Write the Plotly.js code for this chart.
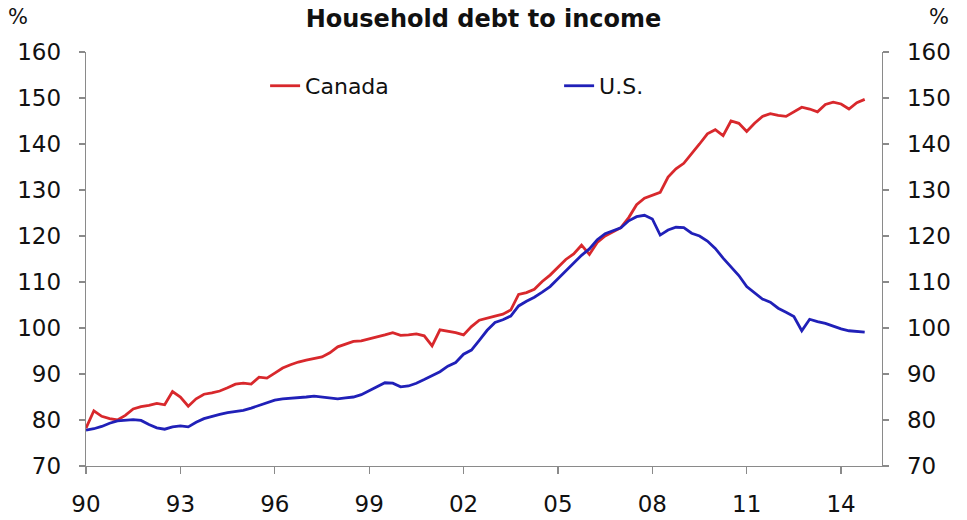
<!DOCTYPE html>
<html>
<head>
<meta charset="utf-8">
<script src="https://cdn.plot.ly/plotly-3.0.1.min.js"></script>
<style>html,body{margin:0;padding:0;background:#fff;}#chart{width:967px;height:520px;}</style>
</head>
<body>
<div id="chart"></div>
<script>
// Quarterly observations, 1990Q1 .. 2014Q4
var startYear = 1990;
var canada = [
  78.2, 82.0, 80.8, 80.3,  80.0, 81.0, 82.4, 82.9,  83.2, 83.6, 83.3, 86.2,
  85.0, 83.0, 84.6, 85.6,  85.9, 86.3, 87.0, 87.8,  88.0, 87.8, 89.3, 89.1,
  90.2, 91.3, 92.0, 92.6,  93.0, 93.3, 93.7, 94.6,  95.9, 96.5, 97.1, 97.2,
  97.6, 98.1, 98.5, 99.0,  98.4, 98.5, 98.7, 98.3,  96.1, 99.6, 99.3, 99.0,
  98.5, 100.3, 101.7, 102.2,  102.6, 103.0, 103.9, 107.3,  107.7, 108.4, 110.1, 111.5,
  113.2, 114.9, 116.1, 118.0,  116.0, 118.6, 120.0, 120.9,  121.8, 124.0, 126.8, 128.2,
  128.8, 129.5, 132.8, 134.6,  135.8, 137.8, 140.0, 142.2,  143.1, 141.8, 145.0, 144.5,
  142.7, 144.5, 146.0, 146.6,  146.2, 146.0, 147.0, 148.0,  147.6, 147.0, 148.6, 149.1,
  148.7, 147.6, 149.0, 149.7
];
var us = [
  77.8, 78.1, 78.6, 79.3,  79.8, 80.0, 80.1, 79.9,  79.0, 78.3, 78.0, 78.5,
  78.7, 78.5, 79.5, 80.3,  80.8, 81.2, 81.6, 81.9,  82.1, 82.6, 83.2, 83.8,
  84.3, 84.6, 84.7, 84.8,  85.0, 85.2, 85.0, 84.8,  84.6, 84.8, 85.0, 85.5,
  86.4, 87.2, 88.1, 88.0,  87.2, 87.4, 88.0, 88.8,  89.7, 90.5, 91.7, 92.5,
  94.3, 95.2, 97.3, 99.5,  101.2, 101.8, 102.6, 104.8,  105.8, 106.7, 107.8, 109.0,
  110.7, 112.4, 114.2, 115.8,  117.2, 119.2, 120.5, 121.2,  121.8, 123.3, 124.2, 124.5,
  123.7, 120.2, 121.3, 121.9,  121.8, 120.6, 120.0, 118.9,  117.3, 115.2, 113.4, 111.4,
  109.0, 107.6, 106.3, 105.6,  104.3, 103.4, 102.5, 99.4,  101.9, 101.4, 101.0, 100.4,
  99.8, 99.4, 99.2, 99.1
];
var tickYears = [1990, 1993, 1996, 1999, 2002, 2005, 2008, 2011, 2014];
var tickLabels = ['90', '93', '96', '99', '02', '05', '08', '11', '14'];
var seriesNames = ['Canada', 'U.S.'];
var titleText = 'Household debt to income';
var unitLabel = '%';

var xq = canada.map(function (_, i) { return startYear + i / 4; });

var FONT = '"DejaVu Sans", Arial, sans-serif';
var AXC = '#8a8a8a';

var traces = [
  {x: xq, y: canada, name: seriesNames[0], type: 'scatter', mode: 'lines',
   line: {color: '#d8282c', width: 2.8}, yaxis: 'y'},
  {x: xq, y: us, name: seriesNames[1], type: 'scatter', mode: 'lines',
   line: {color: '#2020b8', width: 2.8}, yaxis: 'y2'}
];

var yCommon = {
  range: [70, 160], dtick: 10, tick0: 70, showgrid: false, zeroline: false,
  showline: true, linecolor: AXC, linewidth: 1.3,
  ticks: 'outside', ticklen: 6, tickcolor: AXC, tickwidth: 1.3,
  tickfont: {family: FONT, size: 23, color: '#111'},
  ticklabelstandoff: 13, fixedrange: true
};

var layout = {
  width: 967, height: 520,
  margin: {l: 86, r: 85, t: 52, b: 54},
  paper_bgcolor: '#fff', plot_bgcolor: '#fff',
  showlegend: true,
  title: {text: '<b>' + titleText + '</b>', x: 0.5, xanchor: 'center', y: 0.965, yanchor: 'middle',
          font: {family: FONT, size: 24, color: '#111'}},
  xaxis: {
    range: [1990, 2015.3], tickvals: tickYears, ticktext: tickLabels,
    showgrid: false, zeroline: false, showline: true, linecolor: AXC, linewidth: 1.3,
    ticks: 'outside', ticklen: 7, tickcolor: AXC, tickwidth: 1.3,
    tickfont: {family: FONT, size: 23, color: '#111'}, ticklabelstandoff: 10
  },
  yaxis: Object.assign({side: 'left'}, yCommon),
  yaxis2: Object.assign({side: 'right', overlaying: 'y', anchor: 'x'}, yCommon),
  legend: {
    orientation: 'h', x: 0.225, xanchor: 'left', y: 0.918, yanchor: 'middle',
    entrywidth: 249, entrywidthmode: 'pixels',
    font: {family: FONT, size: 22, color: '#111'},
    bgcolor: 'rgba(0,0,0,0)', borderwidth: 0, itemclick: false
  },
  annotations: [
    {text: unitLabel, xref: 'paper', yref: 'paper', x: -0.085, y: 1.085, xanchor: 'center', yanchor: 'middle',
     showarrow: false, font: {family: FONT, size: 21, color: '#111'}},
    {text: unitLabel, xref: 'paper', yref: 'paper', x: 1.072, y: 1.085, xanchor: 'center', yanchor: 'middle',
     showarrow: false, font: {family: FONT, size: 21, color: '#111'}}
  ]
};

Plotly.newPlot('chart', traces, layout, {displayModeBar: false, staticPlot: true});
</script>
</body>
</html>
